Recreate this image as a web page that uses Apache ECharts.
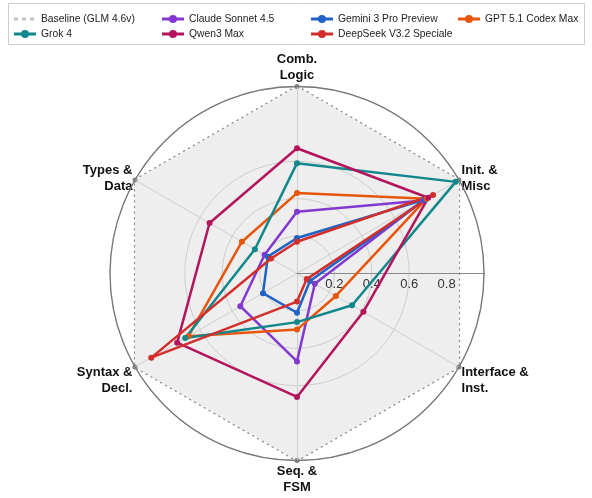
<!DOCTYPE html>
<html><head><meta charset="utf-8">
<script src="https://cdn.jsdelivr.net/npm/echarts@6/dist/echarts.min.js"></script>
<style>html,body{margin:0;padding:0;background:#fff}#c{width:592px;height:498px}</style>
</head><body><div id="c"></div>
<script>
const indicators = ['Comb.\nLogic', 'Types &\nData', 'Syntax &\nDecl.', 'Seq. &\nFSM', 'Interface &\nInst.', 'Init. &\nMisc'];
const lowerSide = ['Syntax &\nDecl.', 'Interface &\nInst.'];
const tickLabels = [0.2, 0.4, 0.6, 0.8];
const baseline = [1, 1, 1, 1, 1, 1];
const claude   = [0.33, 0.20, 0.35, 0.47, 0.11, 0.78];
const gemini   = [0.19, 0.18, 0.21, 0.21, 0.08, 0.79];
const gpt      = [0.43, 0.34, 0.67, 0.30, 0.24, 0.80];
const grok     = [0.59, 0.26, 0.69, 0.26, 0.34, 0.98];
const qwen     = [0.67, 0.54, 0.74, 0.66, 0.41, 0.81];
const deepseek = [0.17, 0.16, 0.90, 0.15, 0.06, 0.84];

const seriesDefs = [
  {name:'Claude Sonnet 4.5', data:claude, color:'#8338d0'},
  {name:'Gemini 3 Pro Preview', data:gemini, color:'#1f63c6'},
  {name:'GPT 5.1 Codex Max', data:gpt, color:'#e8560c'},
  {name:'Grok 4', data:grok, color:'#11878b'},
  {name:'Qwen3 Max', data:qwen, color:'#b3155c'},
  {name:'DeepSeek V3.2 Speciale', data:deepseek, color:'#d22f2c'}
];
const FONT = 'Liberation Sans, Arial, sans-serif';
const C = [297, 273.5], R = 187;
const LINE_ICON = 'path://M0,2.6H22V5.4H0Z M7,4A4,4 0 1 1 15,4A4,4 0 1 1 7,4Z';
const DOT_ICON = 'path://M0,2.5H4V5.5H0Z M8,2.5H12V5.5H8Z M16,2.5H20V5.5H16Z M21.9,4H22';

const chart = echarts.init(document.getElementById('c'));
const series = [{
  type:'radar', name:'Baseline (GLM 4.6v)', z:0,
  data:[{value:baseline, name:'Baseline (GLM 4.6v)'}],
  symbol:'circle', symbolSize:5,
  lineStyle:{color:'#8f8f8f', width:2.4, type:[2.4,3.2]},
  itemStyle:{color:'#808080'},
  areaStyle:{color:'#eeeeee', opacity:1}
}];
seriesDefs.forEach(s => series.push({
  type:'radar', name:s.name, z:3,
  data:[{value:s.data, name:s.name}],
  symbol:'circle', symbolSize:6,
  lineStyle:{color:s.color, width:2.5},
  itemStyle:{color:s.color}
}));

const legendCommon = {orient:'vertical', itemWidth:22, itemHeight:8, itemGap:5, top:9, icon:LINE_ICON,
  textStyle:{fontFamily:FONT, fontSize:10.3, color:'#222'}};
const bl = {name:'Baseline (GLM 4.6v)', icon:DOT_ICON, itemStyle:{color:'#c4c4c4'}};
chart.setOption({
  animation:false,
  backgroundColor:'#fff',
  graphic:[{type:'rect', shape:{x:8.5, y:3.5, width:576, height:41}, style:{fill:'#fff', stroke:'#cccccc', lineWidth:1}, z:-1}],
  legend:[
    Object.assign({}, legendCommon, {left:9, data:[bl,'Grok 4']}),
    Object.assign({}, legendCommon, {left:157, data:['Claude Sonnet 4.5','Qwen3 Max']}),
    Object.assign({}, legendCommon, {left:306, data:['Gemini 3 Pro Preview','DeepSeek V3.2 Speciale']}),
    Object.assign({}, legendCommon, {left:453, data:['GPT 5.1 Codex Max']})
  ],
  radar:{
    center:C, radius:R, startAngle:90, shape:'circle', splitNumber:5, z:1,
    indicator: indicators.map(n => ({name:n, max:1, min:0})),
    axisName:{color:'#111', fontFamily:FONT, fontWeight:'bold', fontSize:13, lineHeight:16,
      formatter: n => lowerSide.includes(n) ? '{sp| }\n' + n : n,
      rich:{sp:{lineHeight:24, fontSize:4}}},
    nameGap:3,
    axisLine:{lineStyle:{color:'#cfcfcf', width:1}},
    splitLine:{lineStyle:{color:['#cdcdcd','#cdcdcd','#cdcdcd','#cdcdcd','rgba(0,0,0,0)'], width:1}},
    splitArea:{show:false}
  },
  polar:{center:C, radius:R},
  angleAxis:{startAngle:0, min:0, max:360, axisLine:{show:true, lineStyle:{color:'#777', width:1.3}},
    axisTick:{show:false}, axisLabel:{show:false}, splitLine:{show:false}, z:2},
  radiusAxis:{min:0, max:1, interval:0.2, z:2,
    axisLine:{show:true, lineStyle:{color:'#8a8a8a', width:1}}, axisTick:{show:false},
    splitLine:{show:false},
    axisLabel:{fontFamily:FONT, fontSize:13, color:'#333', margin:-4, align:'center', verticalAlign:'top',
      formatter: v => tickLabels.some(t => Math.abs(t - v) < 1e-6) ? v.toFixed(1) : ''}},
  series
});
</script></body></html>
